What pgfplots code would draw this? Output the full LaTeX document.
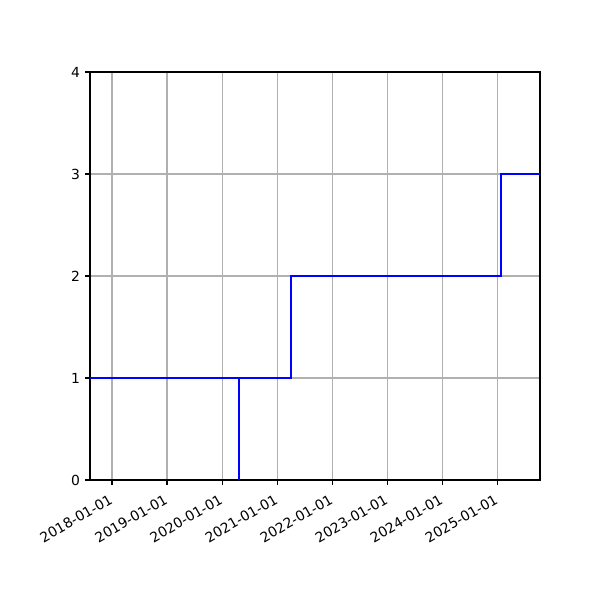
\documentclass[border=0pt]{standalone}
\usepackage{pgfplots}
\pgfplotsset{compat=1.18}
\usepackage{fontspec}
\setmainfont{DejaVu Sans}
\begin{document}
\begin{tikzpicture}
\begin{axis}[
  scale only axis,
  width=324pt, height=293.76pt,
  xmin=2017.6, xmax=2025.776,
  ymin=0, ymax=4,
  xtick={2018,2019,2020,2021,2022,2023,2024,2025},
  xticklabels={2018-01-01,2019-01-01,2020-01-01,2021-01-01,2022-01-01,2023-01-01,2024-01-01,2025-01-01},
  ytick={0,1,2,3,4},
  xticklabel style={rotate=30, anchor=north east, font=\fontsize{10}{12}\selectfont, inner sep=0pt, xshift=-3.5pt, yshift=-1pt},
  yticklabel style={font=\fontsize{10}{12}\selectfont, inner sep=0pt},
  /pgf/number format/assume math mode=true,
  tick align=outside,
  tick pos=left,
  major tick length=3.5pt,
  every tick/.style={black, line width=0.8pt},
  xticklabel shift=3.5pt,
  yticklabel shift=3.5pt,
  grid=major,
  major grid style={color=black!31, line width=0.8pt},
  axis line style={line width=0.8pt},
  clip=true,
]
\addplot[blue, line width=1.5pt] coordinates {
  (2020.309,0) (2020.309,1) (2017.5,1) (2021.249,1) (2021.249,2) (2025.067,2) (2025.067,3) (2025.9,3)
};
\end{axis}
\path ([shift={(-64.8pt,-86.4pt)}]current axis.south west) rectangle ([shift={(43.2pt,51.84pt)}]current axis.north east);
\end{tikzpicture}
\end{document}
